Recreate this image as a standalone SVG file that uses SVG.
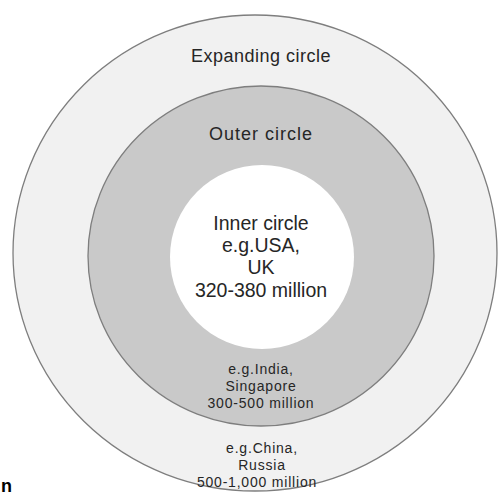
<svg xmlns="http://www.w3.org/2000/svg" width="499" height="496" viewBox="0 0 499 496">
<style>
.ring{stroke:#7e7e7e;stroke-width:1.3}
.t{font-family:"Liberation Sans",Arial,sans-serif;fill:#262626;text-anchor:middle}
.s{font-size:14px;letter-spacing:0.8px}
</style>
<rect width="499" height="496" fill="#ffffff"/>
<g id="expanding">
<ellipse class="ring" cx="255" cy="253" rx="242" ry="238" fill="#f1f1f1"/>
<text class="t" x="261" y="62" font-size="18" letter-spacing="0.5">Expanding circle</text>
<text class="t s" x="262" y="453">e.g.China,</text>
<text class="t s" x="262" y="470">Russia</text>
<text class="t s" x="257" y="487" letter-spacing="1.1">500-1,000 million</text>
</g>
<g id="outer">
<ellipse class="ring" cx="261" cy="256" rx="173" ry="170" fill="#c9c9c9"/>
<text class="t" x="261" y="140" font-size="18" letter-spacing="1">Outer circle</text>
<text class="t s" x="261" y="374">e.g.India,</text>
<text class="t s" x="261" y="391">Singapore</text>
<text class="t s" x="261" y="408">300-500 million</text>
</g>
<g id="inner">
<circle cx="262" cy="257" r="92" fill="#ffffff"/>
<text class="t" x="261" y="230" font-size="19.5">Inner circle</text>
<text class="t" x="261" y="252" font-size="19.5">e.g.USA,</text>
<text class="t" x="261" y="274" font-size="19.5">UK</text>
<text class="t" x="261" y="297" font-size="19.5">320-380 million</text>
</g>
<text x="1" y="492" font-family="'Liberation Sans',Arial,sans-serif" font-weight="bold" font-size="18" fill="#000">n</text>
</svg>
